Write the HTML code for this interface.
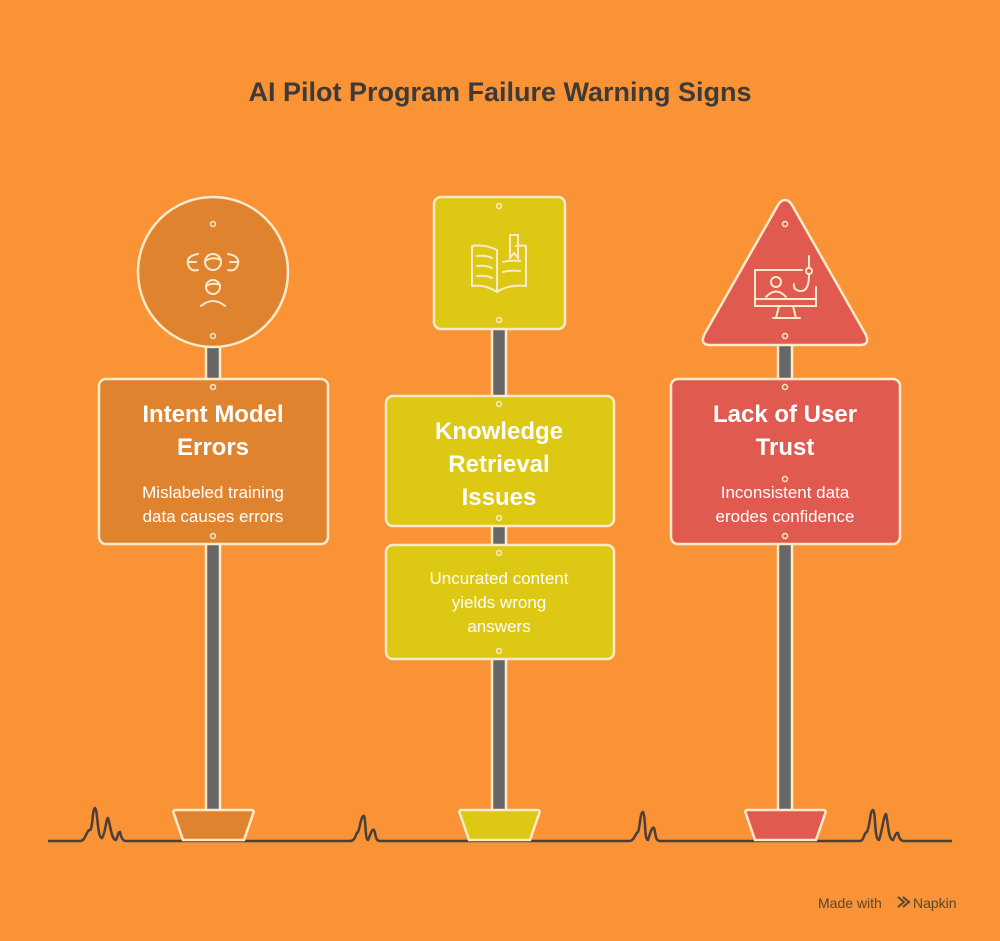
<!DOCTYPE html>
<html><head><meta charset="utf-8"><style>
html,body{margin:0;padding:0;background:#F99336;}
svg{display:block}
text{font-family:"Liberation Sans",sans-serif;}
</style></head><body>
<svg width="1000" height="941" viewBox="0 0 1000 941" xmlns="http://www.w3.org/2000/svg">
<rect width="1000" height="941" fill="#F99336"/>
<text x="500" y="101" text-anchor="middle" font-size="27" font-weight="bold" fill="#3E3A36">AI Pilot Program Failure Warning Signs</text>

<!-- ground -->
<path d="M48 841 H80 C86 841 86 830 90 830 C93 828 92 810 95 808 C98 810 97 838 102 838 C106 832 106 818 108 818 C110 822 111 840 116 840 C118 836 118 832 120 832 C121 836 122 841 126 841 H350 C356 841 356 832 358 832 C360 828 361 815 364 816 C366 820 365 840 368 840 C370 836 372 828 374 830 C376 834 375 841 380 841 H630 C634 841 636 832 638 832 C640 828 640 812 643 812 C646 816 644 840 648 840 C650 834 652 826 654 828 C656 834 655 841 660 841 H860 C864 841 864 832 867 832 C870 826 870 810 873 810 C876 812 874 840 879 840 C882 832 884 814 886 814 C888 820 888 840 893 840 C895 836 896 832 898 833 C899 837 900 841 904 841 H952" fill="none" stroke="#4A4039" stroke-width="2.5"/>

<g stroke="#FCEBCB" stroke-width="2.5">
<!-- poles -->
<rect x="206" y="340" width="14" height="475" fill="#676767"/>
<rect x="492" y="320" width="14" height="495" fill="#676767"/>
<rect x="778" y="330" width="14" height="485" fill="#676767"/>
<!-- bases -->
<path d="M176 810 H251 Q255 810 253 814 L244 840 H183 L174 814 Q172 810 176 810Z" fill="#E0832F"/>
<path d="M462 810 H537 Q541 810 539 814 L530 840 H469 L460 814 Q458 810 462 810Z" fill="#DDC813"/>
<path d="M748 810 H823 Q827 810 825 814 L816 840 H755 L746 814 Q744 810 748 810Z" fill="#E05A50"/>
<!-- top signs -->
<circle cx="213" cy="272" r="75" fill="#E0832F"/>
<rect x="434" y="197" width="131" height="132" rx="7" fill="#DDC813"/>
<path d="M785 200 Q789 200 792 205 L866 335 Q870 345 860 345 H710 Q700 345 704 335 L778 205 Q781 200 785 200Z" fill="#E05A50"/>
<!-- boards -->
<rect x="99" y="379" width="229" height="165" rx="7" fill="#E0832F"/>
<rect x="386" y="396" width="228" height="130" rx="7" fill="#DDC813"/>
<rect x="386" y="545" width="228" height="114" rx="7" fill="#DDC813"/>
<rect x="671" y="379" width="229" height="165" rx="7" fill="#E05A50"/>
</g>

<!-- rivets -->
<g fill="none" stroke="#FCEBCB" stroke-width="1.5">
<circle cx="213" cy="224" r="2.5"/><circle cx="213" cy="336" r="2.5"/>
<circle cx="213" cy="387" r="2.5"/><circle cx="213" cy="536" r="2.5"/>
<circle cx="499" cy="206" r="2.5"/><circle cx="499" cy="320" r="2.5"/>
<circle cx="499" cy="404" r="2.5"/><circle cx="499" cy="518" r="2.5"/>
<circle cx="499" cy="553" r="2.5"/><circle cx="499" cy="651" r="2.5"/>
<circle cx="785" cy="224" r="2.5"/><circle cx="785" cy="336" r="2.5"/>
<circle cx="785" cy="387" r="2.5"/><circle cx="785" cy="479" r="2.5"/><circle cx="785" cy="536" r="2.5"/>
</g>

<!-- icons -->
<g fill="none" stroke="#FCEBCB" stroke-width="2" stroke-linecap="round">
<circle cx="213" cy="262" r="8"/><path d="M205 261 Q213 256 221 260"/>
<path d="M198 254 Q186 256 188 264 Q190 272 198 270"/>
<path d="M228 254 Q240 256 238 264 Q236 272 228 270"/>
<path d="M189 262 H196"/><path d="M230 262 H237"/>
<circle cx="213" cy="287" r="7"/><path d="M206 286 Q213 282 220 285"/>
<path d="M201 306 Q213 296 225 306"/>
<path d="M497 250 Q485 244 472 246 V286 Q485 284 497 292 Q509 284 526 286 V246 Q520 245 516 246"/>
<path d="M497 250 V292"/><path d="M510 248 V235 H518 V258 L514 253 L510 258 V248"/>
<path d="M477 256 Q486 255 492 258"/><path d="M477 266 Q486 265 492 268"/><path d="M477 276 Q486 275 492 278"/>
<path d="M503 262 Q510 260 520 261"/><path d="M503 272 Q510 270 520 271"/>
<path d="M802 270 H755 V306 H816 V287"/><path d="M755 299 H816"/>
<path d="M779 306 L776 318 H796 L793 306"/><path d="M773 318 H800"/>
<circle cx="776" cy="282" r="5"/><path d="M766 297 Q776 286 786 297"/>
<path d="M809 256 V268"/><circle cx="809" cy="271" r="3"/><path d="M809 275 Q809 292 800 291 Q793 290 794 284"/>
</g>

<!-- text -->
<g fill="#FFFFFF" text-anchor="middle">
<text x="213" y="422" font-size="24" font-weight="bold">Intent Model</text>
<text x="213" y="455" font-size="24" font-weight="bold">Errors</text>
<text x="213" y="498" font-size="17">Mislabeled training</text>
<text x="213" y="522" font-size="17">data causes errors</text>

<text x="499" y="439" font-size="24" font-weight="bold">Knowledge</text>
<text x="499" y="472" font-size="24" font-weight="bold">Retrieval</text>
<text x="499" y="505" font-size="24" font-weight="bold">Issues</text>
<text x="499" y="584" font-size="17">Uncurated content</text>
<text x="499" y="608" font-size="17">yields wrong</text>
<text x="499" y="632" font-size="17">answers</text>

<text x="785" y="422" font-size="24" font-weight="bold">Lack of User</text>
<text x="785" y="455" font-size="24" font-weight="bold">Trust</text>
<text x="785" y="498" font-size="17">Inconsistent data</text>
<text x="785" y="522" font-size="17">erodes confidence</text>
</g>

<text x="818" y="908" font-size="14" fill="#5A4530">Made with</text>
<path d="M898 897 l6 5 -6 5 M903 897 l6 5 -6 5" fill="none" stroke="#5A4530" stroke-width="2"/>
<text x="913" y="908" font-size="14" fill="#5A4530">Napkin</text>
</svg>
</body></html>
